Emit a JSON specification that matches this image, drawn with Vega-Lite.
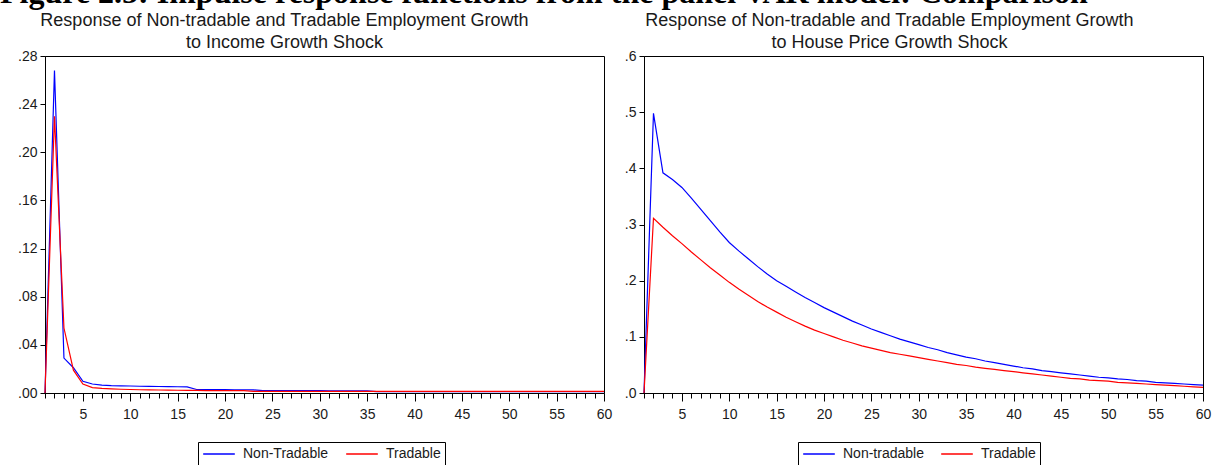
{
"$schema": "https://vega.github.io/schema/vega-lite/v6.json",
"padding": {"left": 0, "right": 8, "top": -23, "bottom": 0},
"background": "white",
"title": {"text": "Figure 2.5: Impulse response functions from the panel VAR model: Comparison", "font": "Liberation Serif", "fontSize": 32, "fontWeight": "bold", "anchor": "start", "color": "black", "offset": 1.5, "frame": "bounds", "dx": -17},
"datasets": {
"income": [
{"period":1,"series":"Non-Tradable","value":0},{"period":2,"series":"Non-Tradable","value":0.268},{"period":3,"series":"Non-Tradable","value":0.029},{"period":4,"series":"Non-Tradable","value":0.021},{"period":5,"series":"Non-Tradable","value":0.0097},{"period":6,"series":"Non-Tradable","value":0.0075},{"period":7,"series":"Non-Tradable","value":0.0066},{"period":8,"series":"Non-Tradable","value":0.0062},{"period":9,"series":"Non-Tradable","value":0.006},{"period":10,"series":"Non-Tradable","value":0.0058},
{"period":11,"series":"Non-Tradable","value":0.0056},{"period":12,"series":"Non-Tradable","value":0.0055},{"period":13,"series":"Non-Tradable","value":0.0054},{"period":14,"series":"Non-Tradable","value":0.0053},{"period":15,"series":"Non-Tradable","value":0.0052},{"period":16,"series":"Non-Tradable","value":0.0051},{"period":17,"series":"Non-Tradable","value":0.0029},{"period":18,"series":"Non-Tradable","value":0.0029},{"period":19,"series":"Non-Tradable","value":0.0028},{"period":20,"series":"Non-Tradable","value":0.0028},
{"period":21,"series":"Non-Tradable","value":0.0027},{"period":22,"series":"Non-Tradable","value":0.0027},{"period":23,"series":"Non-Tradable","value":0.0026},{"period":24,"series":"Non-Tradable","value":0.002},{"period":25,"series":"Non-Tradable","value":0.002},{"period":26,"series":"Non-Tradable","value":0.002},{"period":27,"series":"Non-Tradable","value":0.0019},{"period":28,"series":"Non-Tradable","value":0.0019},{"period":29,"series":"Non-Tradable","value":0.0019},{"period":30,"series":"Non-Tradable","value":0.0019},
{"period":31,"series":"Non-Tradable","value":0.0018},{"period":32,"series":"Non-Tradable","value":0.0018},{"period":33,"series":"Non-Tradable","value":0.0018},{"period":34,"series":"Non-Tradable","value":0.0018},{"period":35,"series":"Non-Tradable","value":0.0018},{"period":36,"series":"Non-Tradable","value":0.0012},{"period":37,"series":"Non-Tradable","value":0.0012},{"period":38,"series":"Non-Tradable","value":0.0012},{"period":39,"series":"Non-Tradable","value":0.0012},{"period":40,"series":"Non-Tradable","value":0.0012},
{"period":41,"series":"Non-Tradable","value":0.0012},{"period":42,"series":"Non-Tradable","value":0.0012},{"period":43,"series":"Non-Tradable","value":0.0012},{"period":44,"series":"Non-Tradable","value":0.0012},{"period":45,"series":"Non-Tradable","value":0.0012},{"period":46,"series":"Non-Tradable","value":0.0012},{"period":47,"series":"Non-Tradable","value":0.0012},{"period":48,"series":"Non-Tradable","value":0.0012},{"period":49,"series":"Non-Tradable","value":0.0012},{"period":50,"series":"Non-Tradable","value":0.0012},
{"period":51,"series":"Non-Tradable","value":0.0012},{"period":52,"series":"Non-Tradable","value":0.0012},{"period":53,"series":"Non-Tradable","value":0.0012},{"period":54,"series":"Non-Tradable","value":0.0012},{"period":55,"series":"Non-Tradable","value":0.0012},{"period":56,"series":"Non-Tradable","value":0.0012},{"period":57,"series":"Non-Tradable","value":0.0012},{"period":58,"series":"Non-Tradable","value":0.0012},{"period":59,"series":"Non-Tradable","value":0.0012},{"period":60,"series":"Non-Tradable","value":0.0012},
{"period":1,"series":"Tradable","value":0},{"period":2,"series":"Tradable","value":0.23},{"period":3,"series":"Tradable","value":0.054},{"period":4,"series":"Tradable","value":0.019},{"period":5,"series":"Tradable","value":0.0075},{"period":6,"series":"Tradable","value":0.0045},{"period":7,"series":"Tradable","value":0.0038},{"period":8,"series":"Tradable","value":0.0034},{"period":9,"series":"Tradable","value":0.0031},{"period":10,"series":"Tradable","value":0.0029},
{"period":11,"series":"Tradable","value":0.0027},{"period":12,"series":"Tradable","value":0.0026},{"period":13,"series":"Tradable","value":0.0025},{"period":14,"series":"Tradable","value":0.0024},{"period":15,"series":"Tradable","value":0.0023},{"period":16,"series":"Tradable","value":0.0022},{"period":17,"series":"Tradable","value":0.0021},{"period":18,"series":"Tradable","value":0.002},{"period":19,"series":"Tradable","value":0.002},{"period":20,"series":"Tradable","value":0.0019},
{"period":21,"series":"Tradable","value":0.0019},{"period":22,"series":"Tradable","value":0.0019},{"period":23,"series":"Tradable","value":0.0013},{"period":24,"series":"Tradable","value":0.0013},{"period":25,"series":"Tradable","value":0.0013},{"period":26,"series":"Tradable","value":0.0013},{"period":27,"series":"Tradable","value":0.0013},{"period":28,"series":"Tradable","value":0.0013},{"period":29,"series":"Tradable","value":0.0013},{"period":30,"series":"Tradable","value":0.0013},
{"period":31,"series":"Tradable","value":0.0013},{"period":32,"series":"Tradable","value":0.0013},{"period":33,"series":"Tradable","value":0.0013},{"period":34,"series":"Tradable","value":0.0013},{"period":35,"series":"Tradable","value":0.0013},{"period":36,"series":"Tradable","value":0.0013},{"period":37,"series":"Tradable","value":0.0013},{"period":38,"series":"Tradable","value":0.0013},{"period":39,"series":"Tradable","value":0.0013},{"period":40,"series":"Tradable","value":0.0013},
{"period":41,"series":"Tradable","value":0.0013},{"period":42,"series":"Tradable","value":0.0013},{"period":43,"series":"Tradable","value":0.0013},{"period":44,"series":"Tradable","value":0.0013},{"period":45,"series":"Tradable","value":0.0013},{"period":46,"series":"Tradable","value":0.0013},{"period":47,"series":"Tradable","value":0.0013},{"period":48,"series":"Tradable","value":0.0013},{"period":49,"series":"Tradable","value":0.0013},{"period":50,"series":"Tradable","value":0.0013},
{"period":51,"series":"Tradable","value":0.0013},{"period":52,"series":"Tradable","value":0.0013},{"period":53,"series":"Tradable","value":0.0013},{"period":54,"series":"Tradable","value":0.0013},{"period":55,"series":"Tradable","value":0.0013},{"period":56,"series":"Tradable","value":0.0013},{"period":57,"series":"Tradable","value":0.0013},{"period":58,"series":"Tradable","value":0.0013},{"period":59,"series":"Tradable","value":0.0013},{"period":60,"series":"Tradable","value":0.0013}
],
"house": [
{"period":1,"series":"Non-tradable","value":0},{"period":2,"series":"Non-tradable","value":0.498},{"period":3,"series":"Non-tradable","value":0.392},{"period":4,"series":"Non-tradable","value":0.38},{"period":5,"series":"Non-tradable","value":0.366},{"period":6,"series":"Non-tradable","value":0.347},{"period":7,"series":"Non-tradable","value":0.327},{"period":8,"series":"Non-tradable","value":0.307},{"period":9,"series":"Non-tradable","value":0.287},{"period":10,"series":"Non-tradable","value":0.268},
{"period":11,"series":"Non-tradable","value":0.253},{"period":12,"series":"Non-tradable","value":0.239},{"period":13,"series":"Non-tradable","value":0.225},{"period":14,"series":"Non-tradable","value":0.212},{"period":15,"series":"Non-tradable","value":0.2},{"period":16,"series":"Non-tradable","value":0.19},{"period":17,"series":"Non-tradable","value":0.18},{"period":18,"series":"Non-tradable","value":0.17},{"period":19,"series":"Non-tradable","value":0.161},{"period":20,"series":"Non-tradable","value":0.152},
{"period":21,"series":"Non-tradable","value":0.144},{"period":22,"series":"Non-tradable","value":0.136},{"period":23,"series":"Non-tradable","value":0.128},{"period":24,"series":"Non-tradable","value":0.121},{"period":25,"series":"Non-tradable","value":0.114},{"period":26,"series":"Non-tradable","value":0.108},{"period":27,"series":"Non-tradable","value":0.102},{"period":28,"series":"Non-tradable","value":0.096},{"period":29,"series":"Non-tradable","value":0.091},{"period":30,"series":"Non-tradable","value":0.086},
{"period":31,"series":"Non-tradable","value":0.081},{"period":32,"series":"Non-tradable","value":0.077},{"period":33,"series":"Non-tradable","value":0.072},{"period":34,"series":"Non-tradable","value":0.068},{"period":35,"series":"Non-tradable","value":0.064},{"period":36,"series":"Non-tradable","value":0.061},{"period":37,"series":"Non-tradable","value":0.057},{"period":38,"series":"Non-tradable","value":0.054},{"period":39,"series":"Non-tradable","value":0.051},{"period":40,"series":"Non-tradable","value":0.048},
{"period":41,"series":"Non-tradable","value":0.045},{"period":42,"series":"Non-tradable","value":0.043},{"period":43,"series":"Non-tradable","value":0.04},{"period":44,"series":"Non-tradable","value":0.038},{"period":45,"series":"Non-tradable","value":0.036},{"period":46,"series":"Non-tradable","value":0.034},{"period":47,"series":"Non-tradable","value":0.032},{"period":48,"series":"Non-tradable","value":0.03},{"period":49,"series":"Non-tradable","value":0.028},{"period":50,"series":"Non-tradable","value":0.027},
{"period":51,"series":"Non-tradable","value":0.025},{"period":52,"series":"Non-tradable","value":0.024},{"period":53,"series":"Non-tradable","value":0.022},{"period":54,"series":"Non-tradable","value":0.021},{"period":55,"series":"Non-tradable","value":0.019},{"period":56,"series":"Non-tradable","value":0.018},{"period":57,"series":"Non-tradable","value":0.017},{"period":58,"series":"Non-tradable","value":0.016},{"period":59,"series":"Non-tradable","value":0.015},{"period":60,"series":"Non-tradable","value":0.014},
{"period":1,"series":"Tradable","value":0},{"period":2,"series":"Tradable","value":0.311},{"period":3,"series":"Tradable","value":0.295},{"period":4,"series":"Tradable","value":0.28},{"period":5,"series":"Tradable","value":0.266},{"period":6,"series":"Tradable","value":0.251},{"period":7,"series":"Tradable","value":0.237},{"period":8,"series":"Tradable","value":0.223},{"period":9,"series":"Tradable","value":0.21},{"period":10,"series":"Tradable","value":0.197},
{"period":11,"series":"Tradable","value":0.185},{"period":12,"series":"Tradable","value":0.174},{"period":13,"series":"Tradable","value":0.163},{"period":14,"series":"Tradable","value":0.153},{"period":15,"series":"Tradable","value":0.144},{"period":16,"series":"Tradable","value":0.135},{"period":17,"series":"Tradable","value":0.127},{"period":18,"series":"Tradable","value":0.119},{"period":19,"series":"Tradable","value":0.112},{"period":20,"series":"Tradable","value":0.106},
{"period":21,"series":"Tradable","value":0.1},{"period":22,"series":"Tradable","value":0.094},{"period":23,"series":"Tradable","value":0.089},{"period":24,"series":"Tradable","value":0.084},{"period":25,"series":"Tradable","value":0.08},{"period":26,"series":"Tradable","value":0.076},{"period":27,"series":"Tradable","value":0.072},{"period":28,"series":"Tradable","value":0.069},{"period":29,"series":"Tradable","value":0.066},{"period":30,"series":"Tradable","value":0.063},
{"period":31,"series":"Tradable","value":0.06},{"period":32,"series":"Tradable","value":0.057},{"period":33,"series":"Tradable","value":0.054},{"period":34,"series":"Tradable","value":0.051},{"period":35,"series":"Tradable","value":0.049},{"period":36,"series":"Tradable","value":0.046},{"period":37,"series":"Tradable","value":0.044},{"period":38,"series":"Tradable","value":0.042},{"period":39,"series":"Tradable","value":0.04},{"period":40,"series":"Tradable","value":0.038},
{"period":41,"series":"Tradable","value":0.036},{"period":42,"series":"Tradable","value":0.034},{"period":43,"series":"Tradable","value":0.032},{"period":44,"series":"Tradable","value":0.03},{"period":45,"series":"Tradable","value":0.028},{"period":46,"series":"Tradable","value":0.026},{"period":47,"series":"Tradable","value":0.025},{"period":48,"series":"Tradable","value":0.023},{"period":49,"series":"Tradable","value":0.022},{"period":50,"series":"Tradable","value":0.021},
{"period":51,"series":"Tradable","value":0.019},{"period":52,"series":"Tradable","value":0.018},{"period":53,"series":"Tradable","value":0.017},{"period":54,"series":"Tradable","value":0.016},{"period":55,"series":"Tradable","value":0.015},{"period":56,"series":"Tradable","value":0.014},{"period":57,"series":"Tradable","value":0.013},{"period":58,"series":"Tradable","value":0.012},{"period":59,"series":"Tradable","value":0.011},{"period":60,"series":"Tradable","value":0.01}
]
},
"spacing": 10,
"resolve": {"scale": {"color": "independent", "x": "independent", "y": "independent"}, "legend": {"color": "independent"}},
"hconcat": [
{
"width": 559, "height": 337,
"data": {"name": "income"},
"title": {"text": ["Response of Non-tradable and Tradable Employment Growth", "to Income Growth Shock"]},
"mark": {"type": "line", "strokeWidth": 1.2},
"encoding": {
"x": {"field": "period", "type": "quantitative", "scale": {"domain": [1, 60], "nice": false, "zero": false},
"axis": {"values": [1,2,3,4,5,6,7,8,9,10,11,12,13,14,15,16,17,18,19,20,21,22,23,24,25,26,27,28,29,30,31,32,33,34,35,36,37,38,39,40,41,42,43,44,45,46,47,48,49,50,51,52,53,54,55,56,57,58,59,60],
"labelExpr": "datum.value % 5 === 0 ? datum.label : ''", "tickSize": {"condition": {"test": "datum.value % 5 === 0", "value": 8}, "value": 5}}},
"y": {"field": "value", "type": "quantitative", "scale": {"domain": [0, 0.28], "nice": false},
"axis": {"values": [0, 0.04, 0.08, 0.12, 0.16, 0.2, 0.24, 0.28], "labelExpr": "replace(format(datum.value, '.2f'), '0.', '.')"}},
"color": {"field": "series", "type": "nominal", "scale": {"domain": ["Non-Tradable", "Tradable"], "range": ["#0000ff", "#ff0000"]}, "legend": {"title": null, "orient": "none", "legendX": 153, "legendY": 386}}
}
},
{
"width": 559, "height": 337,
"data": {"name": "house"},
"title": {"text": ["Response of Non-tradable and Tradable Employment Growth", "to House Price Growth Shock"], "dx": -34},
"mark": {"type": "line", "strokeWidth": 1.2},
"encoding": {
"x": {"field": "period", "type": "quantitative", "scale": {"domain": [1, 60], "nice": false, "zero": false},
"axis": {"values": [1,2,3,4,5,6,7,8,9,10,11,12,13,14,15,16,17,18,19,20,21,22,23,24,25,26,27,28,29,30,31,32,33,34,35,36,37,38,39,40,41,42,43,44,45,46,47,48,49,50,51,52,53,54,55,56,57,58,59,60],
"labelExpr": "datum.value % 5 === 0 ? datum.label : ''", "tickSize": {"condition": {"test": "datum.value % 5 === 0", "value": 8}, "value": 5}}},
"y": {"field": "value", "type": "quantitative", "scale": {"domain": [0, 0.6], "nice": false},
"axis": {"values": [0, 0.1, 0.2, 0.3, 0.4, 0.5, 0.6], "labelExpr": "replace(format(datum.value, '.1f'), '0.', '.')"}},
"color": {"field": "series", "type": "nominal", "scale": {"domain": ["Non-tradable", "Tradable"], "range": ["#0000ff", "#ff0000"]}, "legend": {"title": null, "orient": "none", "legendX": 154, "legendY": 386}}
}
}
],
"config": {
"view": {"stroke": "black", "strokeWidth": 1},
"font": "Liberation Sans",
"title": {"font": "Liberation Sans", "fontSize": 18, "fontWeight": "normal", "color": "#1a1a1a", "lineHeight": 22, "dx": -40, "offset": -3, "anchor": "middle"},
"axis": {"grid": false, "title": null, "domainColor": "black", "tickColor": "black", "labelColor": "#1a1a1a", "labelFont": "Liberation Sans", "labelFontSize": 14, "tickSize": 5, "labelPadding": 3, "labelOverlap": false, "labelFlush": false},
"axisX": {"labelPadding": 6},
"legend": {"direction": "horizontal", "strokeColor": "black", "padding": 4, "symbolType": "stroke", "symbolSize": 1000, "symbolStrokeWidth": 1.5, "clipHeight": 16, "labelFont": "Liberation Sans", "labelFontSize": 14, "labelColor": "#1a1a1a", "columnPadding": 16, "labelOffset": 7}
}
}
